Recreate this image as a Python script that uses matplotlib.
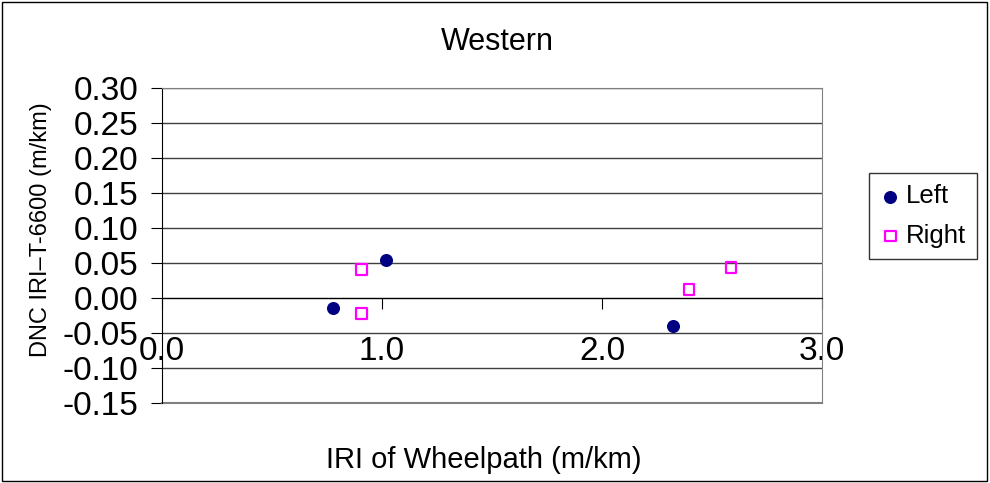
import matplotlib.pyplot as plt
from matplotlib.patches import Rectangle
import numpy as np

plt.rcParams["font.family"] = ["Liberation Sans", "DejaVu Sans"]

# IRI of wheelpath vs DNC difference, Western site
left_x = [0.776, 1.017, 2.324]
left_y = [-0.014, 0.055, -0.040]
right_x = [0.906, 0.906, 2.395, 2.586]
right_y = [0.041, -0.022, 0.012, 0.044]

x_ticks = [0.0, 1.0, 2.0, 3.0]
y_ticks = np.arange(-0.15, 0.3001, 0.05)

fig = plt.figure(figsize=(9.9, 4.83), dpi=100)
fig.patches.append(Rectangle((0.002, 0.004), 0.995, 0.992, transform=fig.transFigure,
                             fill=False, edgecolor="black", linewidth=1.0))

ax = fig.add_axes([162 / 990, 80 / 483, 660 / 990, 315 / 483])
ax.set_xlim(0, 3.0)
ax.set_ylim(-0.15, 0.30)

ax.scatter(left_x, left_y, marker="o", s=70, color="#000080", label="Left", zorder=3)
ax.scatter(right_x, right_y, marker="s", s=60, facecolor="none", edgecolor="#FF00FF",
           linewidth=1.6, label="Right", zorder=3)

# moving the spine resets the tick objects, so do it before styling ticks
ax.spines["bottom"].set_position(("data", 0))
ax.spines["bottom"].set_color("black")
ax.spines["left"].set_color("black")
ax.spines["top"].set_color("#808080")
ax.spines["right"].set_color("#808080")
ax.axhline(-0.15, color="#808080", linewidth=1.5, clip_on=False)

ax.set_yticks(y_ticks)
ax.set_yticklabels([f"{v:.2f}" for v in y_ticks])
ax.set_xticks(x_ticks)
ax.set_xticklabels([f"{v:.1f}" for v in x_ticks])
ax.tick_params(axis="y", direction="out", length=8, pad=9, labelsize=24)
ax.tick_params(axis="x", direction="out", length=8, pad=19, labelsize=24)

ax.grid(axis="y", color="#404040", linewidth=1.0)

fig.text(0.502, 0.913, "Western", ha="center", va="center", fontsize=22)
fig.text(0.489, 0.048, "IRI of Wheelpath (m/km)", ha="center", va="center", fontsize=21)
fig.text(0.041, 0.524, "DNC IRI\u2013T-6600 (m/km)", ha="center", va="center",
         rotation=90, fontsize=17)

leg = fig.legend(loc="center", bbox_to_anchor=(923 / 990, 1 - 216 / 483), fontsize=18.5,
                 frameon=True, fancybox=False, edgecolor="black", handletextpad=0.2,
                 borderpad=0.45, borderaxespad=0, handlelength=0.8, labelspacing=0.6)
leg.get_frame().set_linewidth(1.0)

fig.savefig("out.png", dpi=100)
